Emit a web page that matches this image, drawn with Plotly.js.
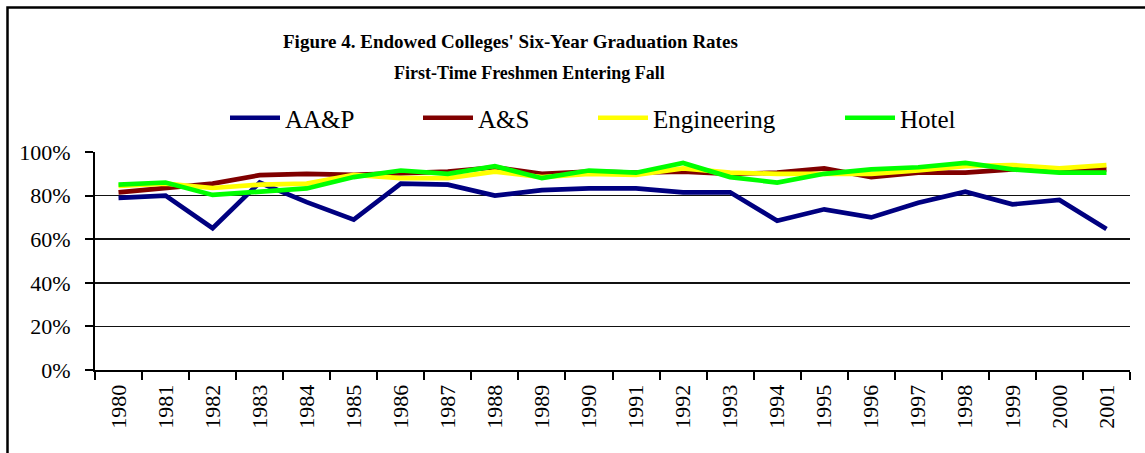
<!DOCTYPE html>
<html>
<head>
<meta charset="utf-8">
<script src="https://cdn.plot.ly/plotly-3.0.1.min.js"></script>
<style>
  html, body { margin: 0; padding: 0; background: #fff; }
  #chart { width: 1145px; height: 453px; }
</style>
</head>
<body>
<div id="chart"></div>
<script>
const years = ["1980","1981","1982","1983","1984","1985","1986","1987","1988","1989","1990",
               "1991","1992","1993","1994","1995","1996","1997","1998","1999","2000","2001"];
const aap =  [79, 80, 65, 86, 77, 69, 85.5, 85, 80, 82.5, 83.3, 83.3, 81.5, 81.5, 68.5, 73.7, 70, 76.7, 81.8, 76, 78, 64.7];
const as =   [81.5, 83.5, 85.5, 89.4, 90, 89.5, 90.5, 91, 93, 90, 91, 90.5, 91, 90, 90.5, 92.5, 88.5, 90.5, 90.5, 92, 92, 92];
const eng =  [84.5, 85.5, 83.5, 85, 85.5, 89.5, 88, 88, 91, 88.5, 90, 89.5, 92.5, 90.5, 90, 90, 90, 91.5, 93.5, 94, 92.5, 94];
const hotel =[85, 86, 80.3, 82, 83.3, 88.5, 91.5, 90, 93.5, 88, 91.5, 90.5, 95, 88.5, 86, 90, 92, 93, 95, 92, 90.5, 90.5];

const titleLine1 = "Figure 4. Endowed Colleges' Six-Year Graduation Rates";
const titleLine2 = "First-Time Freshmen Entering Fall";

const seriesNames = ["AA&P", "A&S", "Engineering", "Hotel"];
const seriesValues = [aap, as, eng, hotel];
const seriesColors = ["#000080", "#800000", "#FFFF00", "#00FF00"];
const legendIds = ["legend", "legend2", "legend3", "legend4"];
const legendLeftPx = [225, 418, 593, 840];

const traces = seriesNames.map((n, i) => ({
  type: "scatter", mode: "lines", name: n,
  x: years, y: seriesValues[i],
  legend: legendIds[i],
  line: {color: seriesColors[i], width: 4.7}
}));

const serif = "Liberation Serif";
const plotL = 95, plotW = 1035, plotB = 370, plotH = 218;

const layout = {
  width: 1145, height: 453,
  margin: {l: 95, r: 15, t: 152, b: 83},
  paper_bgcolor: "#fff", plot_bgcolor: "#fff",
  font: {family: serif, color: "#000", size: 22},
  showlegend: true,
  xaxis: {
    type: "category", range: [-0.5, 21.5], tickson: "boundaries", ticks: "outside", ticklen: 8, tickwidth: 2,
    tickcolor: "#000", showline: true, linecolor: "#000", linewidth: 2,
    showgrid: false, tickangle: -90, ticklabelstandoff: 4,
    tickfont: {family: serif, size: 22, color: "#000"}, fixedrange: true
  },
  yaxis: {
    range: [0, 100], dtick: 20, ticksuffix: "%", ticks: "outside", ticklen: 8, tickwidth: 2,
    tickcolor: "#000", showline: true, linecolor: "#000", linewidth: 2,
    showgrid: true, gridcolor: "#111", gridwidth: 1.5, zeroline: false,
    ticklabelstandoff: 10,
    tickfont: {family: serif, size: 22, color: "#000"}, fixedrange: true
  },
  annotations: [
    {text: "<b>" + titleLine1 + "</b>", xref: "paper", yref: "paper",
     x: (510 - plotL) / plotW, y: (plotB - 42) / plotH, xanchor: "center", yanchor: "middle",
     showarrow: false, font: {family: serif, size: 19, color: "#000"}},
    {text: "<b>" + titleLine2 + "</b>", xref: "paper", yref: "paper",
     x: (529 - plotL) / plotW, y: (plotB - 73) / plotH, xanchor: "center", yanchor: "middle",
     showarrow: false, font: {family: serif, size: 18, color: "#000"}}
  ],
  shapes: [
    {type: "rect", xref: "paper", yref: "paper", layer: "below",
     x0: (7.5 - plotL) / plotW, x1: (1160 - plotL) / plotW,
     y0: (plotB - 470) / plotH, y1: (plotB - 7.5) / plotH,
     line: {color: "#000", width: 2.5}, fillcolor: "rgba(0,0,0,0)"}
  ]
};

legendIds.forEach((id, i) => {
  layout[id] = {
    orientation: "h", x: (legendLeftPx[i] - plotL) / plotW, xanchor: "left",
    y: (plotB - 118) / plotH, yanchor: "middle",
    font: {family: serif, size: 25, color: "#000"},
    itemwidth: 50, bgcolor: "rgba(0,0,0,0)"
  };
});

Plotly.newPlot("chart", traces, layout, {displayModeBar: false, staticPlot: true});
</script>
</body>
</html>
